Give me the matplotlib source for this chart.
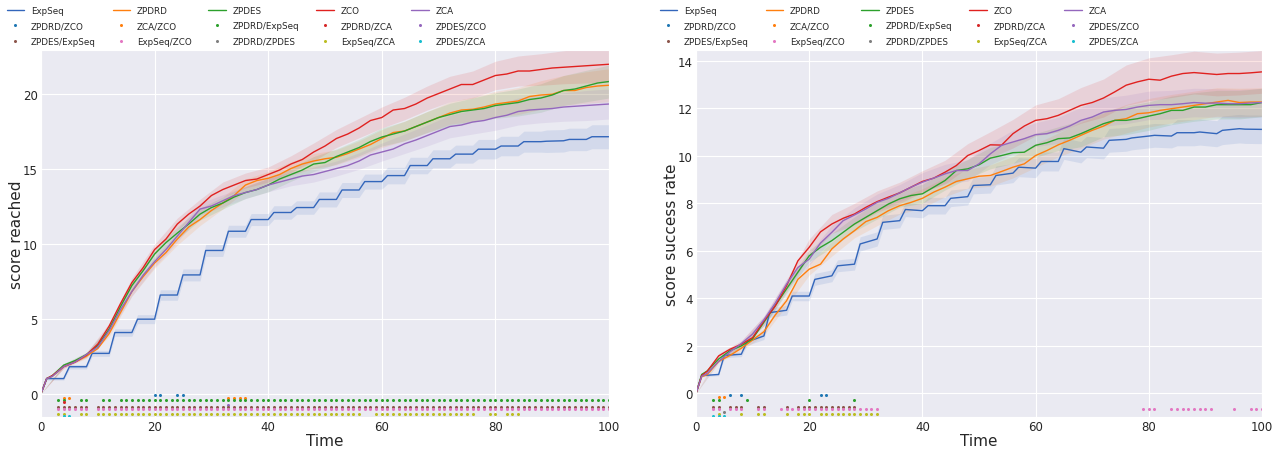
import matplotlib
matplotlib.use("Agg")
import matplotlib.pyplot as plt
import numpy as np
import seaborn as sns

sns.set_style("darkgrid")
plt.rcParams["font.family"] = ["DejaVu Sans"]

methods = ["ExpSeq", "ZPDRD", "ZPDES", "ZCO", "ZCA"]
pairs = ["ZPDRD/ZCO", "ZCA/ZCO", "ZPDRD/ExpSeq", "ZPDRD/ZCA", "ZPDES/ZCO",
         "ZPDES/ExpSeq", "ExpSeq/ZCO", "ZPDRD/ZPDES", "ExpSeq/ZCA", "ZPDES/ZCA"]

# time steps of the smooth curves, and of ExpSeq (start / end of each plateau)
t_curve = [0, 1] + list(range(2, 101, 2))
t_exp = [0] + [t for k in range(25) for t in (4 * k + 1, 4 * k + 4)]
t_band = list(range(0, 101, 4))

# ---------------- left panel: score reached ----------------
left_exp = [0, 1.0, 1.0, 1.79, 1.79, 2.68, 2.68, 4.07, 4.07, 4.96, 4.96, 6.57, 6.57,
            7.91, 7.91, 9.54, 9.54, 10.82, 10.82, 11.6, 11.6, 12.07, 12.07, 12.4, 12.4,
            12.94, 12.94, 13.57, 13.57, 14.13, 14.13, 14.53, 14.53, 15.2, 15.2,
            15.65, 15.65, 15.96, 15.96, 16.29, 16.29, 16.5, 16.5, 16.79, 16.79,
            16.82, 16.85, 16.94, 16.94, 17.12, 17.12]
left_exp_band = [0, 0.1, 0.15, 0.2, 0.25, 0.3, 0.35, 0.4, 0.4, 0.4, 0.4, 0.45, 0.45,
                 0.5, 0.5, 0.5, 0.55, 0.55, 0.6, 0.6, 0.65, 0.65, 0.7, 0.75, 0.75, 0.8]
left_zpdrd = [0, 1.0, 1.15, 1.8, 2.1, 2.5, 3.0, 4.0, 5.4, 6.8, 7.8, 8.7, 9.4, 10.3, 11.1,
              11.6, 12.2, 12.7, 13.2, 13.9, 14.2, 14.35, 14.6, 15.0, 15.3, 15.5, 15.65,
              15.75, 16.0, 16.3, 16.6, 17.0, 17.4, 17.5, 17.8, 18.1, 18.4, 18.7, 18.9,
              18.95, 19.1, 19.3, 19.4, 19.5, 19.8, 19.9, 19.95, 20.2, 20.2, 20.4, 20.5, 20.55]
left_zpdes = [0, 1.0, 1.2, 1.9, 2.2, 2.6, 3.2, 4.3, 5.8, 7.2, 8.2, 9.3, 10.06, 10.7, 11.3,
              11.96, 12.4, 12.7, 13.1, 13.4, 13.6, 13.9, 14.3, 14.6, 14.9, 15.3, 15.4,
              15.8, 16.1, 16.4, 16.8, 17.1, 17.3, 17.5, 17.8, 18.1, 18.4, 18.6, 18.8,
              18.9, 19.0, 19.2, 19.3, 19.4, 19.6, 19.7, 19.9, 20.2, 20.3, 20.5, 20.7, 20.8]
left_zco = [0, 1.0, 1.2, 1.8, 2.1, 2.57, 3.3, 4.5, 6.0, 7.4, 8.4, 9.6, 10.3, 11.3, 11.96,
            12.5, 13.2, 13.6, 13.9, 14.2, 14.3, 14.6, 14.9, 15.3, 15.6, 16.1, 16.5, 17.0,
            17.3, 17.7, 18.2, 18.4, 18.9, 19.0, 19.3, 19.7, 20.0, 20.3, 20.6, 20.6, 20.9,
            21.2, 21.3, 21.5, 21.5, 21.6, 21.7, 21.75, 21.8, 21.85, 21.9, 21.95]
left_zca = [0, 1.0, 1.15, 1.8, 2.1, 2.6, 3.1, 4.2, 5.6, 6.8, 7.9, 8.8, 9.6, 10.5, 11.4,
            12.3, 12.5, 12.85, 13.2, 13.4, 13.6, 13.9, 14.1, 14.3, 14.5, 14.6, 14.8, 15.0,
            15.2, 15.5, 15.9, 16.1, 16.3, 16.65, 16.9, 17.2, 17.5, 17.8, 17.9, 18.1, 18.2,
            18.4, 18.55, 18.8, 18.9, 18.95, 19.0, 19.1, 19.15, 19.2, 19.25, 19.3]
left_band_zpdrd = [0, 0.1, 0.15, 0.2, 0.3, 0.35, 0.4, 0.4, 0.4, 0.4, 0.45, 0.45, 0.5,
                   0.5, 0.55, 0.6, 0.65, 0.7, 0.75, 0.8, 0.85, 0.9, 0.95, 1.0, 1.05, 1.1]
left_band_zpdes = [0, 0.1, 0.15, 0.2, 0.3, 0.35, 0.4, 0.4, 0.4, 0.4, 0.45, 0.45, 0.5,
                   0.5, 0.55, 0.6, 0.65, 0.7, 0.75, 0.8, 0.85, 0.9, 0.95, 1.0, 1.05, 1.1]
left_band_zco = [0, 0.1, 0.15, 0.2, 0.3, 0.35, 0.4, 0.45, 0.5, 0.5, 0.5, 0.55, 0.6,
                 0.6, 0.65, 0.7, 0.75, 0.8, 0.85, 0.9, 0.95, 1.0, 1.05, 1.1, 1.15, 1.2]
left_band_zca = [0, 0.1, 0.15, 0.2, 0.3, 0.35, 0.4, 0.4, 0.4, 0.4, 0.45, 0.45, 0.5,
                 0.5, 0.55, 0.6, 0.65, 0.7, 0.75, 0.8, 0.85, 0.9, 0.9, 0.95, 1.0, 1.0]
left_sig = [
    [20, 21, 24, 25],
    [4, 5, 33, 34, 35, 36],
    [3, 4, 7, 8, 11, 12] + list(range(14, 101)),
    [4],
    [33],
    [3, 4, 5, 6, 7, 8] + list(range(10, 101)),
    [3, 4, 5, 6, 7, 8] + list(range(10, 101)),
    [],
    [3, 4, 7, 8] + list(range(10, 57)) + list(range(59, 77)) + [79, 80, 82, 83, 84],
    [4, 5],
]

# ---------------- right panel: score success rate ----------------
right_exp = [0, 0.75, 0.8, 1.6, 1.65, 2.17, 2.42, 3.4, 3.5, 4.1, 4.1, 4.8, 4.95,
             5.37, 5.44, 6.29, 6.5, 7.2, 7.27, 7.74, 7.69, 7.9, 7.9, 8.21, 8.28,
             8.75, 8.78, 9.17, 9.27, 9.52, 9.48, 9.76, 9.76, 10.3, 10.15, 10.37, 10.32,
             10.65, 10.69, 10.75, 10.83, 10.86, 10.83, 10.97, 10.97, 11.0, 10.93,
             11.07, 11.14, 11.12, 11.11]
right_exp_band = [0, 0.05, 0.1, 0.15, 0.2, 0.2, 0.25, 0.25, 0.3, 0.3, 0.3, 0.35, 0.35,
                  0.35, 0.4, 0.4, 0.4, 0.45, 0.45, 0.5, 0.5, 0.5, 0.55, 0.55, 0.6, 0.6]
right_zpdrd = [0, 0.7, 0.8, 1.35, 1.6, 1.9, 2.25, 2.6, 3.3, 3.9, 4.8, 5.23, 5.44, 6.08,
               6.5, 6.85, 7.23, 7.41, 7.69, 7.9, 8.04, 8.21, 8.47, 8.68, 8.92, 9.03, 9.14,
               9.17, 9.34, 9.52, 9.66, 10.01, 10.22, 10.46, 10.65, 10.86, 11.07, 11.25,
               11.49, 11.56, 11.77, 11.81, 11.91, 11.98, 12.05, 12.12, 12.19, 12.26,
               12.33, 12.24, 12.26, 12.26]
right_zpdes = [0, 0.8, 0.95, 1.45, 1.8, 2.0, 2.3, 3.0, 3.7, 4.4, 5.1, 5.79, 6.15, 6.43,
               6.78, 7.13, 7.41, 7.69, 7.97, 8.19, 8.33, 8.4, 8.68, 8.96, 9.38, 9.45, 9.62,
               9.9, 10.01, 10.13, 10.15, 10.44, 10.55, 10.72, 10.75, 10.93, 11.14, 11.35,
               11.49, 11.49, 11.56, 11.67, 11.77, 11.91, 11.91, 12.05, 12.05, 12.15,
               12.15, 12.15, 12.15, 12.24]
right_zco = [0, 0.75, 0.94, 1.58, 1.86, 2.07, 2.35, 3.05, 3.68, 4.53, 5.58, 6.15, 6.8,
             7.13, 7.37, 7.55, 7.83, 8.07, 8.26, 8.44, 8.68, 8.92, 9.06, 9.31, 9.59, 10.01,
             10.22, 10.46, 10.45, 10.93, 11.25, 11.49, 11.56, 11.7, 11.91, 12.12, 12.24,
             12.43, 12.69, 12.97, 13.11, 13.22, 13.18, 13.35, 13.46, 13.5, 13.46, 13.42,
             13.46, 13.46, 13.49, 13.53]
right_zca = [0, 0.72, 0.85, 1.35, 1.75, 2.1, 2.5, 3.1, 3.8, 4.6, 5.3, 5.65, 6.33, 6.78,
             7.27, 7.51, 7.76, 8.04, 8.21, 8.44, 8.68, 8.89, 9.06, 9.24, 9.38, 9.38, 9.66,
             10.08, 10.44, 10.58, 10.72, 10.89, 10.93, 11.07, 11.25, 11.49, 11.63, 11.84,
             11.91, 11.95, 12.05, 12.12, 12.15, 12.15, 12.19, 12.24, 12.21, 12.22, 12.19,
             12.19, 12.22, 12.24]
right_band_zpdrd = [0, 0.05, 0.1, 0.15, 0.2, 0.25, 0.3, 0.3, 0.35, 0.35, 0.4, 0.4, 0.4,
                    0.45, 0.45, 0.5, 0.5, 0.55, 0.55, 0.6, 0.6, 0.6, 0.6, 0.6, 0.6, 0.6]
right_band_zpdes = [0, 0.05, 0.1, 0.15, 0.2, 0.25, 0.3, 0.3, 0.35, 0.35, 0.4, 0.4, 0.4,
                    0.45, 0.45, 0.5, 0.5, 0.55, 0.55, 0.6, 0.6, 0.6, 0.6, 0.6, 0.6, 0.6]
right_band_zco = [0, 0.1, 0.15, 0.2, 0.25, 0.35, 0.4, 0.45, 0.45, 0.45, 0.45, 0.5, 0.5,
                  0.55, 0.6, 0.65, 0.7, 0.75, 0.8, 0.85, 0.9, 0.9, 0.9, 0.9, 0.9, 0.9]
right_band_zca = [0, 0.05, 0.1, 0.15, 0.2, 0.25, 0.3, 0.3, 0.35, 0.35, 0.4, 0.4, 0.45,
                  0.45, 0.5, 0.5, 0.55, 0.55, 0.6, 0.6, 0.6, 0.6, 0.6, 0.6, 0.6, 0.6]
right_sig = [
    [6, 8, 22, 23],
    [4, 5],
    [3, 4, 9, 20, 28],
    [],
    [],
    [3, 4, 6, 7, 8, 11, 12, 16] + list(range(18, 29)),
    [3, 4, 6, 7, 8, 11, 12] + list(range(15, 33)) + [79, 80, 81] + list(range(84, 92)) + [95, 98, 99, 100],
    [5],
    [4, 8, 11, 12, 16, 18, 19, 20] + list(range(22, 33)),
    [3, 4, 5],
]

line_colors = ["#3366bb", "#ff7f0e", "#2ca02c", "#e0211f", "#9467bd"]
pair_colors = plt.get_cmap("tab10").colors


def draw(ax, curves, bands, exp_vals, exp_band, sig, ylim, ystep, ylabel):
    exp_band_pts = [exp_band[0]] + list(np.repeat(exp_band[1:], 2))
    exp_vals = np.array(exp_vals)
    ax.fill_between(t_exp, exp_vals - exp_band_pts, exp_vals + exp_band_pts,
                    color=line_colors[0], alpha=0.12, lw=0)
    lines = [ax.plot(t_exp, exp_vals, color=line_colors[0], lw=1.0, label=methods[0])[0]]
    idx = np.searchsorted(t_curve, t_band)
    for k, (vals, band) in enumerate(zip(curves, bands), start=1):
        vals = np.array(vals)
        c = vals[idx]
        ax.fill_between(t_band, c - np.array(band), c + np.array(band),
                        color=line_colors[k], alpha=0.12, lw=0)
        lines.append(ax.plot(t_curve, vals, color=line_colors[k], lw=1.0,
                             label=methods[k])[0])
    span = ylim[1] - ylim[0]
    dots = []
    for i, ts in enumerate(sig):
        level = -0.0045 * span - 0.0064 * span * i
        dots.append(ax.plot(ts, [level] * len(ts), "o", ms=2.2, mew=0, ls="none",
                            color=pair_colors[i], label=pairs[i])[0])
    ax.set_xlim(0, 100)
    ax.set_ylim(*ylim)
    ax.set_xticks(range(0, 101, 20))
    ax.set_yticks(np.arange(0, ylim[1], ystep))
    ax.tick_params(labelsize=8.5, length=0, pad=2.5)
    ax.set_xlabel("Time", fontsize=11, labelpad=0)
    ax.set_ylabel(ylabel, fontsize=11, labelpad=-1)
    handles = []
    for c in range(5):
        handles += [lines[c], dots[c], dots[c + 5]]
    return handles


fig = plt.figure(figsize=(12.83, 4.52), dpi=100)
ax1 = fig.add_axes([41 / 1283, 34 / 452, 568 / 1283, 367 / 452])
ax2 = fig.add_axes([696 / 1283, 34 / 452, 566 / 1283, 367 / 452])

h1 = draw(ax1, [left_zpdrd, left_zpdes, left_zco, left_zca],
          [left_band_zpdrd, left_band_zpdes, left_band_zco, left_band_zca],
          left_exp, left_exp_band, left_sig, (-1.56, 22.9), 5, "score reached")
h2 = draw(ax2, [right_zpdrd, right_zpdes, right_zco, right_zca],
          [right_band_zpdrd, right_band_zpdes, right_band_zco, right_band_zca],
          right_exp, right_exp_band, right_sig, (-0.99, 14.45), 2, "score success rate")

for h, x0 in ((h1, 3.0 / 1283), (h2, 656.0 / 1283)):
    fig.legend(h, [l.get_label() for l in h], loc="upper left", ncol=5,
               bbox_to_anchor=(x0, 1 - 3.5 / 452), bbox_transform=fig.transFigure,
               frameon=False, fontsize=6.3, labelspacing=0.72, columnspacing=1.9,
               borderaxespad=0)

fig.savefig("out.png", dpi=100)
